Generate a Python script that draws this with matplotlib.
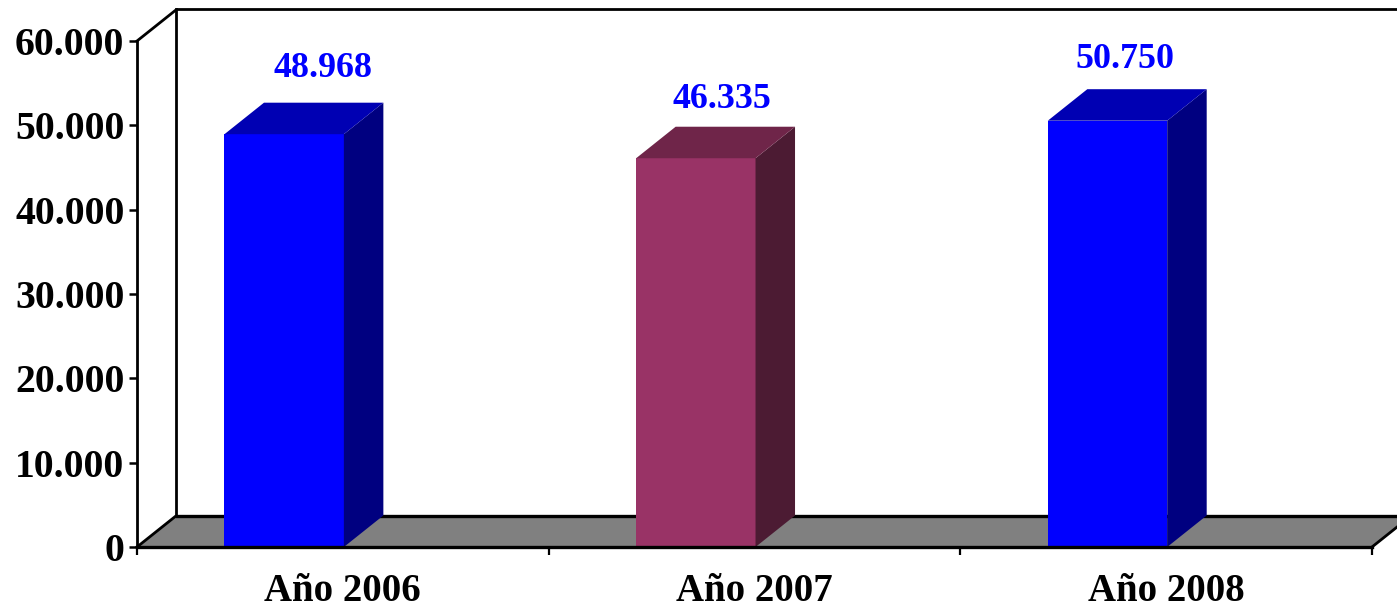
import matplotlib
matplotlib.use("Agg")
import matplotlib.pyplot as plt
from matplotlib.patches import Polygon

categorias = ['Año 2006', 'Año 2007', 'Año 2008']
valores = [48950, 46100, 50550]
etiquetas = ['48.968', '46.335', '50.750']
ticks_y = [0, 10000, 20000, 30000, 40000, 50000, 60000]
ticks_y_txt = ['0', '10.000', '20.000', '30.000', '40.000', '50.000', '60.000']

color_frente = ['#0000FF', '#993366', '#0000FF']
color_lado = ['#000080', '#4C1B33', '#000080']
color_tapa = ['#0000B3', '#6F2549', '#0000B3']

# desplazamiento de cada etiqueta respecto a su barra
desp_x = [-0.048, -0.079, -0.1]
desp_y = [7840, 7010, 7310]

W, H = 1397, 607
plt.rcParams['font.family'] = ['Liberation Serif', 'DejaVu Serif']

fig = plt.figure(figsize=(W / 100, H / 100), dpi=100)
ax = fig.add_axes([137 / W, (H - 547) / H, (1372 - 137) / W, 506 / H])
ax.set_xlim(0, 3)
ax.set_ylim(0, 60000)
ax.patch.set_visible(False)
for s in ax.spines.values():
    s.set_visible(False)

# profundidad del efecto 3D en unidades de datos
dx = 39.5 / (1235 / 3)
dy = 31.5 / 506 * 60000
ancho = 0.29

def poli(puntos, color, z=2):
    p = Polygon(puntos, closed=True, facecolor=color, edgecolor='none', linewidth=0,
                zorder=z, clip_on=False)
    ax.add_patch(p)

# suelo gris y pared
poli([(0, 0), (3, 0), (3 + dx, dy), (dx, dy)], '#808080', z=1)
ax.plot([0, dx, dx], [0, dy, 60000 + dy], color='black', lw=2, clip_on=False, zorder=1.5)
ax.plot([dx, 3 + dx], [dy, dy], color='black', lw=2.4, clip_on=False, zorder=1.5)
ax.plot([0, dx, 3 + dx], [60000, 60000 + dy, 60000 + dy], color='black', lw=2, clip_on=False, zorder=1.5)
ax.plot([3, 3 + dx], [0, dy], color='black', lw=2, clip_on=False, zorder=1.5)

for i, v in enumerate(valores):
    der = i + 0.5025
    izq = der - ancho
    poli([(izq, 0), (der, 0), (der, v), (izq, v)], color_frente[i], z=3)
    poli([(der, 0), (der + dx, dy), (der + dx, v + dy), (der, v)], color_lado[i], z=3)
    poli([(izq, v), (der, v), (der + dx, v + dy), (izq + dx, v + dy)], color_tapa[i], z=3)
    ax.text(i + 0.5 + desp_x[i], v + desp_y[i], etiquetas[i], color='#0000FF', fontsize=25.8,
            fontweight='bold', ha='center', va='center', clip_on=False, zorder=4)

ax.plot([0, 0], [0, 60000], color='black', lw=2, clip_on=False, zorder=5)
ax.plot([0, 3], [0, 0], color='black', lw=2.4, clip_on=False, zorder=5)

ax.set_yticks(ticks_y)
ax.set_yticklabels(ticks_y_txt, fontsize=28.6, fontweight='bold')
ax.set_xticks([0, 1, 2, 3])
ax.set_xticklabels([])
ax.tick_params(axis='y', length=6, width=1.8, pad=3)
ax.tick_params(axis='x', length=6, width=1.6)
for i, c in enumerate(categorias):
    ax.text(i + 0.5, -3100, c, fontsize=28, fontweight='bold', ha='center', va='top', clip_on=False)

fig.savefig('out.png', dpi=100)
